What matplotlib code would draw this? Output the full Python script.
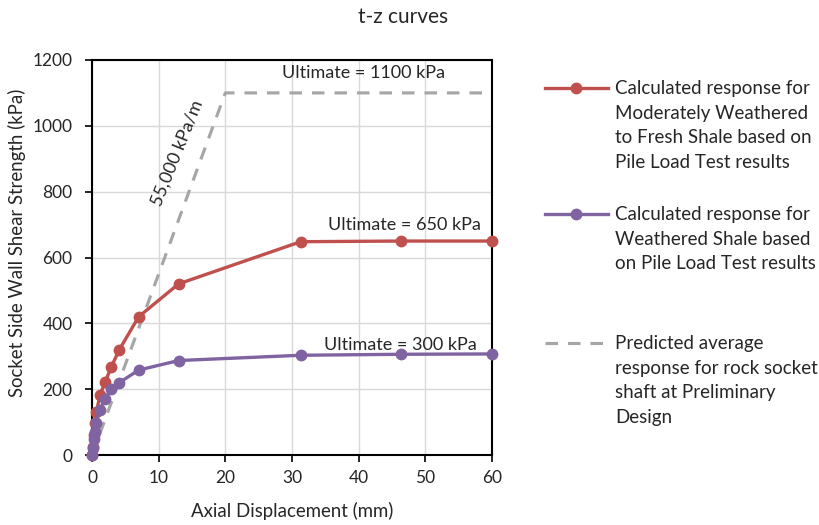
import numpy as np
import matplotlib
matplotlib.use("Agg")
import matplotlib.pyplot as plt
from matplotlib.lines import Line2D

plt.rcParams["font.family"] = ["Lato", "DejaVu Sans"]

TEXT = "#262626"
RED = "#C0504D"
PURPLE = "#8064A2"
GREY = "#A6A6A6"

# Moderately weathered to fresh shale (pile load test)
fresh_x = [0, 0.15, 0.3, 0.45, 0.65, 1.2, 2.0, 2.9, 4.1, 7.0, 13.0, 31.3, 46.4, 60]
fresh_y = [0, 25, 60, 98, 130, 182, 223, 268, 320, 420, 520, 648, 650, 650]

# Weathered shale (pile load test)
weath_x = [0, 0.1, 0.25, 0.4, 0.6, 1.2, 1.9, 2.9, 4.1, 7.0, 13.0, 31.3, 46.4, 60]
weath_y = [0, 20, 48, 71, 98, 137, 170, 200, 220, 258, 287, 303, 306, 307]

# Predicted design curve: 55,000 kPa/m up to 1100 kPa
pred_x = [0, 20, 60]
pred_y = [0, 1100, 1100]

legend_labels = [
    "Calculated response for\nModerately Weathered\nto Fresh Shale based on\nPile Load Test results",
    "Calculated response for\nWeathered Shale based\non Pile Load Test results",
    "Predicted average\nresponse for rock socket\nshaft at Preliminary\nDesign",
]

W, H = 819, 525
fig = plt.figure(figsize=(W / 100, H / 100), dpi=100)
ax = fig.add_axes([92 / W, (H - 455) / H, 400 / W, 395 / H])

ax.plot(pred_x, pred_y, color=GREY, lw=2.25, dashes=(4, 3.2), zorder=2)
ax.plot(fresh_x, fresh_y, color=RED, lw=2.4, marker="o", ms=7.5, zorder=3,
        clip_on=False)
ax.plot(weath_x, weath_y, color=PURPLE, lw=2.4, marker="o", ms=7.5, zorder=4,
        clip_on=False)

ax.text(40.8, 1162, "Ultimate = 1100 kPa", ha="center", va="center",
        fontsize=13, color=TEXT)
ax.text(46.9, 699, "Ultimate = 650 kPa", ha="center", va="center",
        fontsize=13, color=TEXT)
ax.text(46.3, 334, "Ultimate = 300 kPa", ha="center", va="center",
        fontsize=13, color=TEXT)
ax.text(12.8, 918, "55,000 kPa/m", ha="center", va="center", rotation=68,
        fontsize=13, color=TEXT)

ax.set_xlim(0, 60)
ax.set_ylim(0, 1200)
ax.set_xticks(range(0, 61, 10))
ax.set_yticks(range(0, 1201, 200))
ax.grid(True, color="#D9D9D9", lw=1)
ax.set_axisbelow(True)
for s in ax.spines.values():
    s.set_color("black")
    s.set_linewidth(1.5)
ax.tick_params(direction="out", length=5, width=1.2, colors="black",
               labelcolor=TEXT, labelsize=12.5)
ax.tick_params(axis="y", pad=9)
ax.tick_params(axis="x", pad=6)
ax.set_xlabel("Axial Displacement (mm)", fontsize=13.4, color=TEXT)
ax.set_ylabel("Socket Side Wall Shear Strength (kPa)", fontsize=13.4,
              color=TEXT)
ax.xaxis.set_label_coords(0.5, -0.12)
ax.yaxis.set_label_coords(-0.165, 0.537)

fig.text(403 / W, 1 - 17 / H, "t-z curves", ha="center", va="center",
         fontsize=15, color=TEXT)

# custom legend
entries = [
    (88, dict(color=RED, lw=2.4, marker="o", ms=7.5, markevery=[1])),
    (214, dict(color=PURPLE, lw=2.4, marker="o", ms=7.5, markevery=[1])),
    (343, dict(color=GREY, lw=2.25, dashes=(4, 3.2))),
]
for (ypx, style), label in zip(entries, legend_labels):
    yf = 1 - ypx / H
    fig.add_artist(Line2D([545 / W, 576 / W, 608 / W], [yf, yf, yf],
                          transform=fig.transFigure, **style))
    fig.text(615 / W, 1 - (ypx - 8) / H, label, ha="left", va="top",
             fontsize=13.5, color=TEXT, linespacing=1.55)

fig.savefig("out.png", dpi=100)
